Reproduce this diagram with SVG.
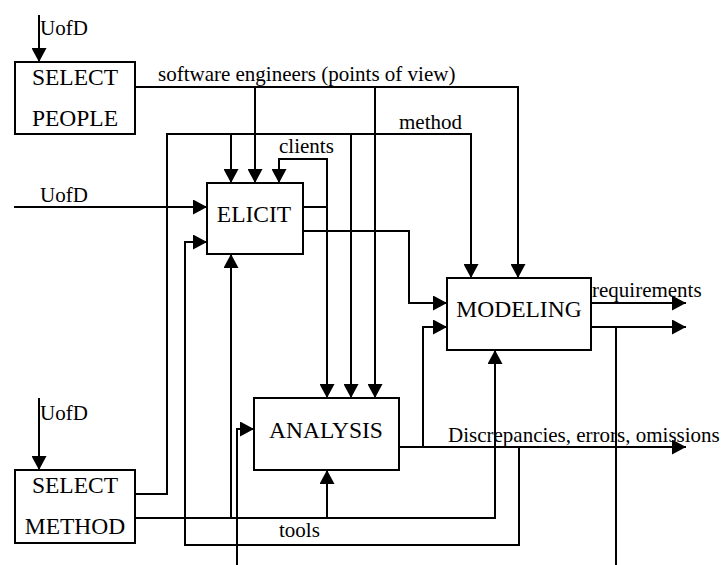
<svg xmlns="http://www.w3.org/2000/svg" width="723" height="565" viewBox="0 0 723 565">
<style>
.box{fill:#fff;stroke:#000;stroke-width:2}
.ln{fill:none;stroke:#000;stroke-width:2}
.arr{marker-end:url(#ah)}
.nt{font-family:"Liberation Serif","Times New Roman",serif;font-size:23.5px;fill:#000;text-anchor:middle}
.lt{font-family:"Liberation Serif","Times New Roman",serif;font-size:21px;fill:#000}
</style>
<defs>
<marker id="ah" markerUnits="userSpaceOnUse" markerWidth="15" markerHeight="15" refX="14" refY="7.5" orient="auto">
<path d="M0,0 L14,7.5 L0,15 z" fill="#000"/>
</marker>
</defs>
<g id="connectors">
<path class="ln arr" d="M39,15 V62"/>
<path class="ln arr" d="M135,87 H518 V278"/>
<path class="ln arr" d="M255,87 V183"/>
<path class="ln arr" d="M375,87 V398"/>
<path class="ln arr" d="M135,494 H167 V134 H471 V278"/>
<path class="ln arr" d="M231,134 V183"/>
<path class="ln arr" d="M351,134 V398"/>
<path class="ln arr" d="M14,207 H207"/>
<path class="ln arr" d="M303,207 H327 V159 H279 V183"/>
<path class="ln arr" d="M327,207 V398"/>
<path class="ln arr" d="M303,231 H409 V303 H447"/>
<path class="ln arr" d="M519,447 V545 H185 V242 H207"/>
<path class="ln arr" d="M135,518 H495 V350"/>
<path class="ln arr" d="M231,518 V254"/>
<path class="ln arr" d="M327,518 V470"/>
<path class="ln arr" d="M399,447 H686"/>
<path class="ln arr" d="M423,447 V327 H447"/>
<path class="ln arr" d="M591,303 H686"/>
<path class="ln arr" d="M591,327 H686"/>
<path class="ln" d="M616,327 V565"/>
<path class="ln arr" d="M237,565 V429 H254"/>
<path class="ln arr" d="M39,398 V470"/>
<text class="lt" x="40" y="35" font-size="21.5">UofD</text>
<text class="lt" x="158" y="81">software engineers (points of view)</text>
<text class="lt" x="399" y="129">method</text>
<text class="lt" x="279" y="153">clients</text>
<text class="lt" x="40" y="202" font-size="21.5">UofD</text>
<text class="lt" x="592" y="297">requirements</text>
<text class="lt" x="40" y="420" font-size="21.5">UofD</text>
<text class="lt" x="448" y="442">Discrepancies, errors, omissions</text>
<text class="lt" x="279" y="537">tools</text>
</g>
<g id="select-people">
<rect class="box" x="15" y="62" width="120" height="72"/>
<text class="nt" x="75" y="85">SELECT</text>
<text class="nt" x="75" y="126">PEOPLE</text>
</g>
<g id="elicit">
<rect class="box" x="207" y="183" width="96" height="71"/>
<text class="nt" x="254" y="222">ELICIT</text>
</g>
<g id="modeling">
<rect class="box" x="447" y="278" width="144" height="72"/>
<text class="nt" x="519" y="317">MODELING</text>
</g>
<g id="analysis">
<rect class="box" x="254" y="398" width="145" height="72"/>
<text class="nt" x="326" y="438">ANALYSIS</text>
</g>
<g id="select-method">
<rect class="box" x="15" y="470" width="120" height="73"/>
<text class="nt" x="75" y="493">SELECT</text>
<text class="nt" x="75" y="534">METHOD</text>
</g>
</svg>
